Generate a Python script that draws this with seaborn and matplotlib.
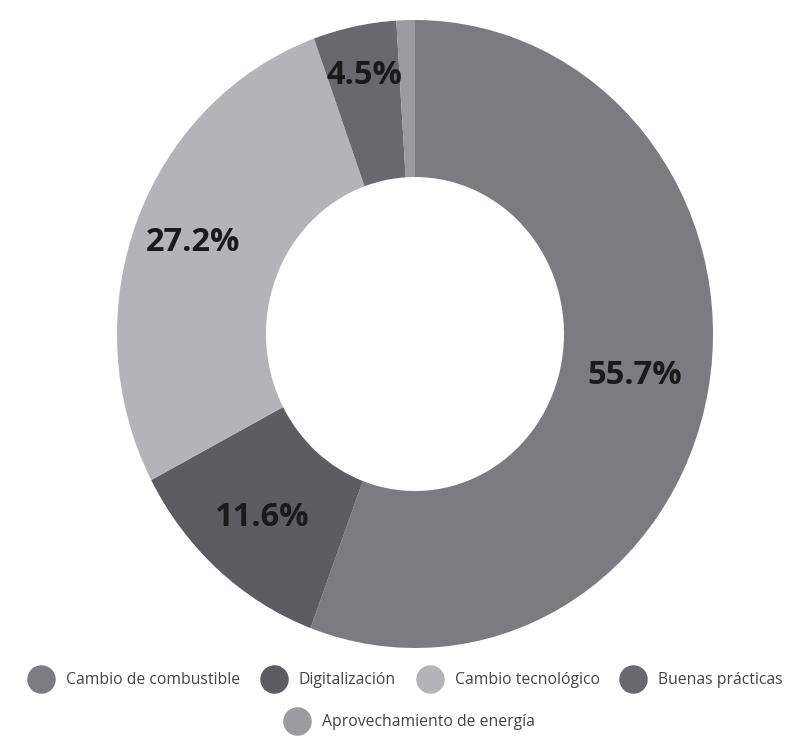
import matplotlib
matplotlib.use("Agg")
import matplotlib.pyplot as plt
from matplotlib.lines import Line2D
import numpy as np
import seaborn as sns

categories = ["Cambio de combustible", "Digitalización", "Cambio tecnológico",
              "Buenas prácticas", "Aprovechamiento de energía"]
values = [55.7, 11.6, 27.2, 4.5, 1.0]
labels = ["55.7%", "11.6%", "27.2%", "4.5%", ""]
colors = ["#7b7b80", "#5c5c61", "#b4b4b8", "#68686d", "#9a9a9f"]
label_radii = [0.75, 0.78, 0.80, 0.84, 0.75]

sns.set_theme(style="white")
plt.rcParams["font.family"] = ["Open Sans", "DejaVu Sans"]

W, H = 805, 737
fig = plt.figure(figsize=(W / 100, H / 100), dpi=100)
fig.patch.set_facecolor("white")

cx, cy = 415, 334
rx, ry = 298, 314
ax = fig.add_axes([(cx - rx) / W, (H - cy - ry) / H, 2 * rx / W, 2 * ry / H])

wedges, _ = ax.pie(values, colors=colors, startangle=90, counterclock=False,
                   radius=1.0, wedgeprops=dict(width=0.5, linewidth=0))
for w, lab, r in zip(wedges, labels, label_radii):
    if not lab:
        continue
    ang = np.deg2rad((w.theta1 + w.theta2) / 2)
    ax.text(r * np.cos(ang), r * np.sin(ang), lab, ha="center", va="center",
            fontsize=23.5, fontweight="bold", color="#1a1a1a")
ax.set_aspect("auto")
ax.set_xlim(-1, 1)
ax.set_ylim(-1, 1)
ax.axis("off")

def handle(c):
    return Line2D([], [], marker="o", linestyle="none", markersize=19.5,
                  markerfacecolor=c, markeredgecolor=c)

leg1 = fig.legend([handle(c) for c in colors[:4]], categories[:4], ncol=4,
                  loc="center", bbox_to_anchor=(404 / W, 1 - 680 / H), frameon=False,
                  fontsize=11.3, handletextpad=0.6, columnspacing=1.15,
                  borderpad=0.1, labelcolor="#444444")
leg2 = fig.legend([handle(colors[4])], categories[4:], ncol=1,
                  loc="center", bbox_to_anchor=(408 / W, 1 - 722 / H), frameon=False,
                  fontsize=11.3, handletextpad=0.6, borderpad=0.1,
                  labelcolor="#444444")

fig.savefig("out.png", dpi=100, facecolor="white")
